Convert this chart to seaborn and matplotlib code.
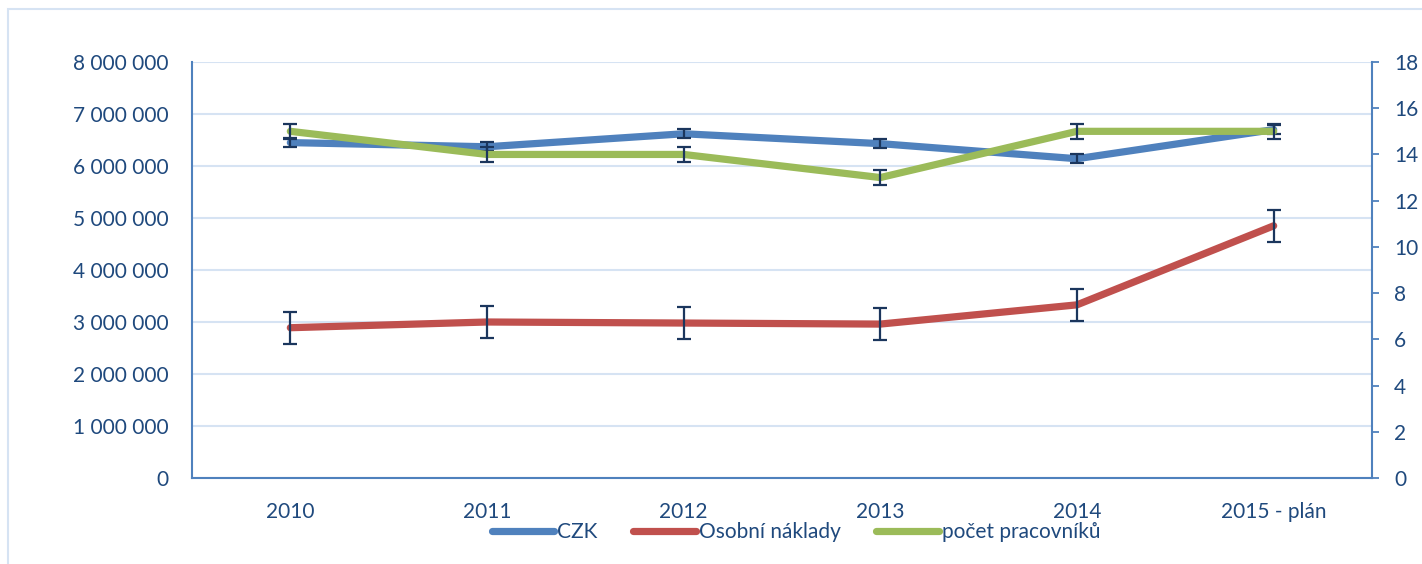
import numpy as np
import pandas as pd
import seaborn as sns
import matplotlib.pyplot as plt
from matplotlib.ticker import FuncFormatter, FixedLocator
from matplotlib.patches import Rectangle
from matplotlib.lines import Line2D

# ----------------------------------------
# DATA
# ----------------------------------------
years = ["2010", "2011", "2012", "2013", "2014", "2015 - plán"]
czk = [6450000, 6370000, 6620000, 6430000, 6140000, 6700000]
osobni_naklady = [2890000, 3000000, 2980000, 2960000, 3330000, 4850000]
pocet_pracovniku = [15, 14, 14, 13, 15, 15]

# error bar half-widths (same for every point of a series)
czk_err = 85000
naklady_err = 305000
pocet_err = 0.33

series_names = ["CZK", "Osobní náklady", "počet pracovníků"]

# ----------------------------------------
# STYLE
# ----------------------------------------
sns.set_style("white")
plt.rcParams['font.family'] = ['Lato', 'DejaVu Sans']

BLUE = "#4F81BD"
RED = "#C0504D"
GREEN = "#9BBB59"
TEXT = "#1F497D"
GRID = "#D6E3F3"
ERR = "#1B365D"
FS = 15

df = pd.DataFrame({"rok": years, "pos": np.arange(len(years)),
                   "CZK": czk, "naklady": osobni_naklady, "pocet": pocet_pracovniku})

fig = plt.figure(figsize=(14.22, 5.64), dpi=100)
ax = fig.add_axes([192 / 1422, 1 - 478 / 564, (1372 - 192) / 1422, (478 - 62) / 564])
ax2 = ax.twinx()

# outer chart border
fig.patches.append(Rectangle((8 / 1422, -0.05), 1.1, 1 - 9 / 564 + 0.05, transform=fig.transFigure,
                             fill=False, edgecolor=GRID, linewidth=1.5, zorder=0))

lw = 5.2
sns.lineplot(data=df, x="pos", y="CZK", ax=ax, color=BLUE, linewidth=lw,
             solid_capstyle="round", zorder=3)
sns.lineplot(data=df, x="pos", y="naklady", ax=ax, color=RED, linewidth=lw,
             solid_capstyle="round", zorder=3)
ax.errorbar(df["pos"], df["CZK"], yerr=czk_err, fmt="none", ecolor=ERR,
            elinewidth=1.6, capsize=5, capthick=1.6, zorder=4)
ax.errorbar(df["pos"], df["naklady"], yerr=naklady_err, fmt="none", ecolor=ERR,
            elinewidth=1.6, capsize=5, capthick=1.6, zorder=4)

sns.lineplot(data=df, x="pos", y="pocet", ax=ax2, color=GREEN, linewidth=lw,
             solid_capstyle="round", zorder=3)
ax2.errorbar(df["pos"], df["pocet"], yerr=pocet_err, fmt="none", ecolor=ERR,
             elinewidth=1.6, capsize=5, capthick=1.6, zorder=4)

# ----------------------------------------
# AXES
# ----------------------------------------
ax.set_xlim(-0.5, len(years) - 0.5)
ax.set_ylim(0, 8000000)
ax.set_yticks(np.arange(0, 8000001, 1000000))
ax.yaxis.set_major_formatter(FuncFormatter(lambda v, p: f"{int(v):,}".replace(",", " ")))
ax2.set_ylim(0, 18)
ax2.set_yticks(np.arange(0, 19, 2))

ax.set_xticks(df["pos"])
ax.set_xticklabels(years)
ax.xaxis.set_minor_locator(FixedLocator(np.arange(-0.5, len(years), 1)))
ax.tick_params(axis="x", which="major", length=0, pad=17, labelsize=FS, labelcolor=TEXT)
ax.tick_params(axis="x", which="minor", length=5, width=1.3, color=BLUE, direction="out")
ax.tick_params(axis="y", length=0, pad=17, labelsize=FS, labelcolor=TEXT)
ax2.tick_params(axis="y", length=5, width=1.3, color=BLUE, pad=11, labelsize=FS,
                labelcolor=TEXT, direction="out")

ax.set_xlabel("")
ax.set_ylabel("")
ax2.set_ylabel("")
ax.grid(axis="y", color=GRID, linewidth=1.5, zorder=0)
ax.grid(axis="x", visible=False)
ax2.grid(False)

for a in (ax, ax2):
    a.spines["top"].set_visible(False)
    for s in ("left", "right", "bottom"):
        a.spines[s].set_color(BLUE)
        a.spines[s].set_linewidth(1.5)
ax.spines["right"].set_visible(False)
ax2.spines["left"].set_visible(False)
ax2.spines["bottom"].set_visible(False)

# ----------------------------------------
# LEGEND
# ----------------------------------------
handles = [Line2D([], [], color=c, linewidth=lw, solid_capstyle="round")
           for c in (BLUE, RED, GREEN)]
leg = fig.legend(handles, series_names, loc="center", bbox_to_anchor=(796 / 1422, 1 - 532 / 564),
                 ncol=3, frameon=False, fontsize=FS, handlelength=3.0, handletextpad=0.15,
                 columnspacing=1.7)
for t in leg.get_texts():
    t.set_color(TEXT)

fig.savefig("out.png", dpi=100)
